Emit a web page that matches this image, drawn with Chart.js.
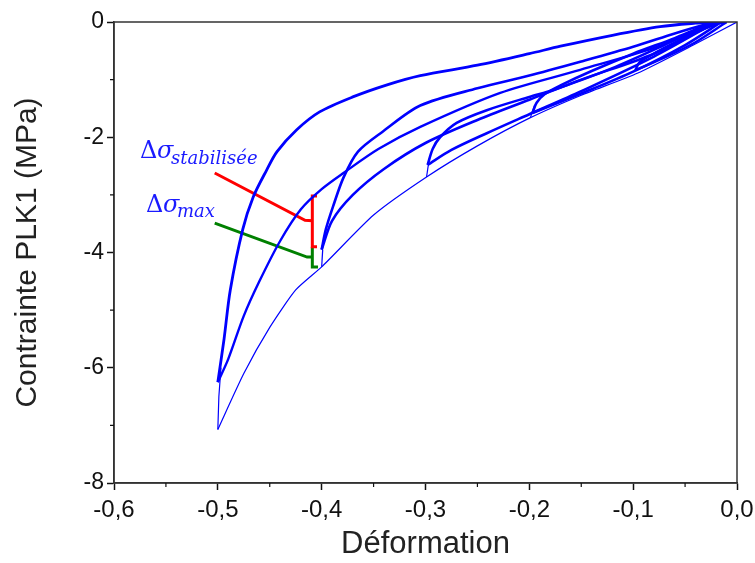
<!DOCTYPE html>
<html>
<head>
<meta charset="utf-8">
<script src="https://cdn.jsdelivr.net/npm/chart.js@4/dist/chart.umd.min.js"></script>
<style>
  html, body { margin: 0; background: #fff; }
  #wrap { width: 755px; height: 563px; }
</style>
</head>
<body>
<div id="wrap"><canvas id="chart"></canvas></div>
<script>
// [Déformation, Contrainte (MPa)] pairs
const virgin = [[0, 0], [-0.042, -0.4], [-0.096, -0.89], [-0.15, -1.27], [-0.199, -1.66],
  [-0.25, -2.15], [-0.299, -2.69], [-0.35, -3.35], [-0.4, -4.25], [-0.425, -4.65],
  [-0.45, -5.3], [-0.475, -6.1], [-0.5, -7.07]];

const firstUnload5 = [[-0.5, -7.07], [-0.499, -6.5], [-0.497, -6.0]];
const firstUnload4 = [[-0.4, -4.25], [-0.399, -3.95]];
const firstUnload3 = [[-0.299, -2.69], [-0.297, -2.45]];
const firstUnload2 = [[-0.199, -1.66], [-0.195, -1.45]];

const unload1 = [[-0.098, -0.84], [-0.094, -0.7], [-0.087, -0.62], [-0.07, -0.45], [-0.045, -0.22], [-0.02, -0.04], [-0.01, 0]];
const reload1 = [[-0.01, 0], [-0.04, -0.35], [-0.07, -0.62], [-0.098, -0.84]];

const unload2 = [[-0.197, -1.58], [-0.193, -1.4], [-0.185, -1.25], [-0.17, -1.1], [-0.14, -0.85], [-0.1, -0.55], [-0.06, -0.28], [-0.03, -0.06], [-0.015, 0]];
const reload2 = [[-0.015, 0], [-0.05, -0.4], [-0.1, -0.86], [-0.15, -1.24], [-0.197, -1.58]];

const unload3 = [[-0.298, -2.48], [-0.293, -2.2], [-0.286, -2.0], [-0.27, -1.75], [-0.241, -1.53], [-0.2, -1.3], [-0.177, -1.18], [-0.12, -0.8], [-0.07, -0.4], [-0.035, -0.1], [-0.02, 0]];
const reload3 = [[-0.02, 0], [-0.08, -0.6], [-0.15, -1.2], [-0.2, -1.6], [-0.241, -1.93], [-0.275, -2.22], [-0.298, -2.48]];

const unload4 = [[-0.4, -3.95], [-0.396, -3.6], [-0.389, -3.2], [-0.379, -2.7], [-0.365, -2.25], [-0.341, -1.9], [-0.305, -1.45], [-0.25, -1.15], [-0.2, -0.93], [-0.151, -0.69], [-0.1, -0.43], [-0.06, -0.2], [-0.03, -0.04], [-0.02, 0]];
const reload4 = [[-0.02, 0], [-0.08, -0.55], [-0.15, -1.0], [-0.2, -1.35], [-0.25, -1.7], [-0.3, -2.1], [-0.34, -2.55], [-0.37, -3.0], [-0.39, -3.45], [-0.4, -3.95]];

const unload5 = [[-0.5, -6.25], [-0.494, -5.5], [-0.488, -4.65], [-0.476, -3.6], [-0.466, -3.04], [-0.453, -2.57], [-0.443, -2.25], [-0.424, -1.87], [-0.402, -1.56], [-0.37, -1.3], [-0.337, -1.09], [-0.305, -0.93], [-0.25, -0.75], [-0.2, -0.55], [-0.17, -0.42], [-0.12, -0.23], [-0.074, -0.08], [-0.04, -0.02], [-0.02, 0]];
const reload5 = [[-0.02, 0], [-0.08, -0.45], [-0.151, -0.83], [-0.228, -1.23], [-0.305, -1.82], [-0.345, -2.2], [-0.379, -2.62], [-0.4, -2.9], [-0.42, -3.25], [-0.44, -3.8], [-0.46, -4.5], [-0.475, -5.1], [-0.49, -5.85], [-0.5, -6.25]];

// annotation strokes
const redLine = [[-0.503, -2.62], [-0.416, -3.44], [-0.409, -3.45]];
const redBracket = [[-0.4045, -3.02], [-0.409, -3.02], [-0.409, -3.9], [-0.4045, -3.9]];
const greenLine = [[-0.503, -3.49], [-0.414, -4.08], [-0.409, -4.08]];
const greenBracket = [[-0.409, -3.9], [-0.409, -4.25], [-0.4035, -4.25]];

const xMinor = [-0.55, -0.45, -0.35, -0.25, -0.15, -0.05];
const yMinor = [-1, -3, -5, -7];

const BLUE = '#0000ff';

function line(pts, color, width, tension) {
  return {
    data: pts.map(p => ({ x: p[0], y: p[1] })),
    showLine: true,
    borderColor: color,
    borderWidth: width,
    pointRadius: 0,
    tension: tension,
    fill: false
  };
}

const datasets = [
  line(virgin, BLUE, 1.2, 0.2),
  line(firstUnload5, BLUE, 1.2, 0),
  line(firstUnload4, BLUE, 1.2, 0),
  line(firstUnload3, BLUE, 1.2, 0),
  line(firstUnload2, BLUE, 1.2, 0),
  line(unload1, BLUE, 2.4, 0.3), line(reload1, BLUE, 2.4, 0.3),
  line(unload2, BLUE, 2.6, 0.3), line(reload2, BLUE, 2.6, 0.3),
  line(unload3, BLUE, 2.6, 0.3), line(reload3, BLUE, 2.6, 0.3),
  line(unload4, BLUE, 2.6, 0.3), line(reload4, BLUE, 2.6, 0.3),
  line(unload5, BLUE, 2.8, 0.3), line(reload5, BLUE, 2.4, 0.3),
  line(redLine, '#ff0000', 3, 0), line(redBracket, '#ff0000', 3, 0),
  line(greenLine, '#008000', 3, 0), line(greenBracket, '#008000', 3, 0)
];

const framePlugin = {
  id: 'frame',
  afterDraw(chart) {
    const { ctx, chartArea: a, scales: { x, y } } = chart;
    ctx.save();
    ctx.strokeStyle = '#333';
    ctx.lineWidth = 1.5;
    ctx.strokeRect(a.left, a.top, a.right - a.left, a.bottom - a.top);
    ctx.strokeStyle = '#111';
    ctx.lineWidth = 1.2;
    ctx.beginPath();
    xMinor.forEach(v => {
      const px = x.getPixelForValue(v);
      ctx.moveTo(px, a.bottom); ctx.lineTo(px, a.bottom + 4);
    });
    yMinor.forEach(v => {
      const py = y.getPixelForValue(v);
      ctx.moveTo(a.left, py); ctx.lineTo(a.left - 4, py);
    });
    ctx.stroke();

    // Δσ labels
    ctx.fillStyle = '#1a1aff';
    ctx.textBaseline = 'alphabetic';
    ctx.font = '24px "DejaVu Serif"';
    ctx.fillText('Δ', 140, 158);
    ctx.fillText('Δ', 146, 212);
    ctx.font = 'italic 24px "DejaVu Serif"';
    ctx.fillText('σ', 157, 158);
    ctx.fillText('σ', 163, 212);
    ctx.font = 'italic 18px "DejaVu Serif"';
    ctx.fillText('stabilisée', 171, 164);
    ctx.fillText('max', 177, 217);
    ctx.restore();
  }
};

function xLabel(v) {
  if (Math.abs(v) < 1e-9) return '0,0';
  return v.toFixed(1).replace('.', ',');
}

new Chart(document.getElementById('chart'), {
  type: 'scatter',
  data: { datasets: datasets },
  options: {
    responsive: true,
    maintainAspectRatio: false,
    animation: false,
    layout: { padding: { top: 22, right: 18, left: 0, bottom: 0 } },
    plugins: { legend: { display: false }, tooltip: { enabled: false } },
    scales: {
      x: {
        type: 'linear',
        min: -0.6,
        max: 0,
        afterFit: s => { s.height = 80; s.paddingLeft = 0; s.paddingRight = 0; },
        grid: { drawOnChartArea: false, drawTicks: true, tickLength: 7, tickColor: '#111', tickWidth: 1.5 },
        border: { display: true, color: '#333', width: 1.5 },
        ticks: {
          stepSize: 0.1,
          color: '#111',
          padding: 6,
          maxRotation: 0,
          font: { family: 'Liberation Sans', size: 24 },
          callback: v => xLabel(v)
        },
        title: {
          display: true,
          text: 'Déformation',
          color: '#222',
          font: { family: 'Liberation Sans', size: 31 },
          padding: { top: 0, bottom: 0 }
        }
      },
      y: {
        type: 'linear',
        min: -8,
        max: 0,
        afterFit: s => { s.width = 114; },
        grid: { drawOnChartArea: false, drawTicks: true, tickLength: 7, tickColor: '#111', tickWidth: 1.5 },
        border: { display: true, color: '#333', width: 1.5 },
        ticks: {
          stepSize: 2,
          color: '#111',
          padding: 3,
          font: { family: 'Liberation Sans', size: 23 },
          callback: v => String(Math.round(v))
        },
        title: {
          display: true,
          text: 'Contrainte PLK1 (MPa)',
          color: '#222',
          font: { family: 'Liberation Sans', size: 30 },
          padding: { top: 10, bottom: 0 }
        }
      }
    }
  },
  plugins: [framePlugin]
});
</script>
</body>
</html>
